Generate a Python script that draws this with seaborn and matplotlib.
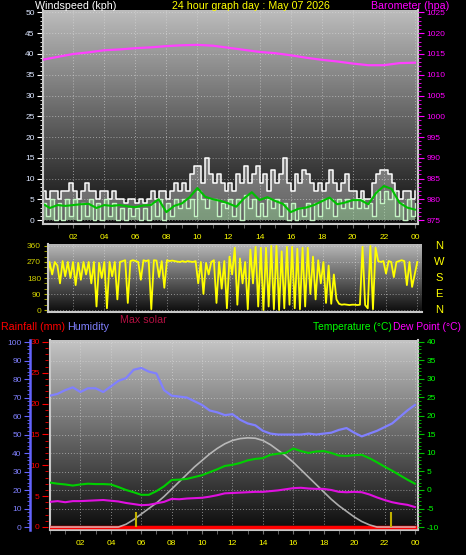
import numpy as np
import matplotlib
matplotlib.use('Agg')
import matplotlib.pyplot as plt
import seaborn as sns
from matplotlib.colors import LinearSegmentedColormap
from matplotlib.ticker import MultipleLocator

plt.rcParams['font.family'] = ['Liberation Sans', 'DejaVu Sans']
plt.rcParams['axes.unicode_minus'] = False

# ---- data -------------------------------------------------------------
t15 = np.arange(97) / 4          # 15 minute steps
t10 = np.arange(145) / 6         # 10 minute steps
t30 = np.arange(49) / 2          # 30 minute steps
t60 = np.arange(25)              # hourly

gust = [7, 5, 7, 7, 5, 7, 7, 9, 7, 5, 7, 9, 7, 7, 5, 7,
        7, 5, 7, 5, 5, 4, 5, 5, 4, 5, 4, 5, 7, 5, 7, 7,
        5, 7, 9, 7, 9, 7, 11, 13, 13, 9, 15, 11, 9, 11, 9, 7,
        9, 7, 11, 9, 13, 9, 11, 13, 9, 11, 7, 12, 9, 11, 15, 9,
        7, 11, 9, 12, 11, 9, 7, 9, 7, 9, 12, 9, 7, 9, 11, 7,
        7, 5, 7, 5, 5, 9, 11, 12, 12, 11, 9, 7, 5, 7, 7, 5, 7]

speed = [4, 1, 5, 0, 4, 0, 5, 1, 5, 0, 4, 1, 5, 0, 4, 0,
         5, 1, 4, 0, 3, 0, 3, 1, 3, 0, 3, 0, 4, 1, 5, 0,
         4, 1, 5, 3, 5, 3, 5, 1, 7, 5, 3, 5, 5, 1, 4, 3,
         5, 1, 5, 0, 6, 3, 5, 1, 4, 1, 5, 3, 5, 1, 4, 0,
         4, 0, 3, 1, 4, 0, 4, 1, 5, 3, 5, 1, 5, 3, 5, 3,
         5, 3, 5, 3, 4, 1, 7, 4, 7, 5, 7, 1, 4, 0, 5, 1, 4]

wind_avg = [4.0, 2.9, 3.6, 3.4, 3.6, 3.8, 3.9, 2.9, 3.6, 3.4,
            3.6, 3.3, 3.1, 3.5, 3.6, 5.0, 1.9, 3.4, 4.0, 5.5,
            7.7, 5.6, 5.0, 4.6, 4.0, 3.2, 5.2, 6.7, 4.8, 5.5,
            4.6, 3.9, 1.9, 2.7, 3.0, 3.6, 4.5, 5.4, 3.8, 4.2,
            4.8, 4.8, 3.8, 6.5, 8.2, 7.5, 4.2, 3.0, 2.5]

barometer = [1013.6, 1014.3, 1015.0, 1015.4, 1015.9, 1016.1, 1016.4, 1016.6,
             1016.9, 1017.1, 1017.2, 1017.0, 1016.5, 1016.0, 1015.5, 1015.2,
             1014.7, 1014.1, 1013.6, 1013.2, 1012.7, 1012.3, 1012.3, 1012.8, 1012.9]

wind_dir = [265, 270, 160, 270, 200, 270,
            250, 150, 275, 190, 270, 180,
            270, 140, 265, 170, 270, 200,
            270, 150, 270, 20, 265, 180,
            270, 10, 270, 190, 270, 60,
            270, 275, 280, 40, 275, 280,
            275, 270, 170, 280, 275, 280,
            5, 280, 278, 185, 275, 125,
            280, 275, 278, 275, 272, 270,
            275, 270, 275, 272, 270, 275,
            150, 270, 90, 265, 200, 270,
            280, 40, 270, 120, 275, 10,
            300, 200, 350, 30, 290, 150,
            270, 5, 340, 150, 355, 20,
            350, 0, 350, 20, 360, 5,
            360, 0, 330, 10, 355, 30,
            355, 10, 345, 5, 350, 20,
            350, 90, 300, 60, 280, 150,
            270, 40, 250, 35, 200, 60,
            35, 30, 32, 30, 28, 30,
            30, 28, 30, 355, 28, 10,
            360, 5, 350, 275, 270, 275,
            205, 275, 270, 185, 270, 275,
            280, 275, 140, 270, 130, 200,
            270]

humidity = [71, 72, 74, 75.5, 73, 75, 75, 73, 76, 79,
            80.5, 85, 86, 84, 83, 74, 71, 70.5, 70, 68,
            66, 63, 62, 60.5, 61, 58, 56, 55, 52, 50.5,
            50, 50, 50, 50, 50.5, 50, 50.5, 51, 52.5, 53.5,
            51, 49, 50.5, 52, 54, 56, 59.5, 63, 66]

temperature = [2.0, 1.7, 1.5, 1.2, 1.5, 1.7, 1.6, 1.6, 1.5, 0.8,
               0.0, -0.6, -1.3, -1.3, -0.3, 1.0, 2.7, 2.8, 3.0, 3.5,
               4.0, 4.8, 5.6, 6.5, 6.8, 7.3, 8.0, 8.4, 8.6, 9.5,
               9.8, 10.0, 11.2, 10.5, 10.0, 10.4, 10.5, 10.0, 9.3, 9.2,
               9.4, 9.5, 8.6, 7.5, 6.3, 5.2, 4.0, 2.8, 1.7]

dew_point = [-3.2, -3.0, -3.3, -3.0, -3.0, -2.9, -2.8, -2.7, -2.9, -3.1,
             -3.5, -3.8, -4.1, -4.0, -3.6, -3.2, -2.4, -2.5, -2.3, -2.2,
             -2.1, -1.8, -1.4, -0.9, -0.8, -0.7, -0.6, -0.5, -0.5, -0.3,
             -0.1, 0.2, 0.5, 0.6, 0.4, 0.3, 0.3, 0.0, -0.5, -0.6,
             -0.5, -0.6, -1.2, -2.0, -2.7, -3.3, -3.7, -4.0, -4.6]

max_solar = [0, 0, 0, 0, 0, 0, 0, 0, 0, 0,
             1.5, 4, 7, 10, 13, 16.5, 20.5, 24.5, 28.5, 32.5,
             36, 39.5, 42.5, 45, 46.8, 47.8, 48.2, 48, 46.8, 44.5,
             41.5, 38.5, 35, 31, 27, 23, 19, 15, 11.5, 8.5,
             5.5, 3, 1.2, 0, 0, 0, 0, 0, 0]

rainfall = [0] * 25
marker_hours = [5.66, 22.4]

hour_ticks = list(range(2, 25, 2))
hour_labels = ['02', '04', '06', '08', '10', '12', '14', '16', '18', '20', '22', '00']

# ---- helpers -----------------------------------------------------------
W, H = 466, 555
fig = plt.figure(figsize=(W / 100, H / 100), dpi=100, facecolor='black')


def box(left, top, right, bottom):
    return fig.add_axes([left / W, 1 - bottom / H, (right - left) / W, (bottom - top) / H])


def shade(ax, top_col, bottom_col):
    cmap = LinearSegmentedColormap.from_list('bg', [bottom_col, top_col])
    ax.imshow(np.linspace(0, 1, 200)[:, None], extent=[0, 1, 0, 1], transform=ax.transAxes,
              origin='lower', cmap=cmap, aspect='auto', zorder=0)
    ax.set_axisbelow(True)
    ax.grid(True, which='major', color='#e0e0e0', linestyle=(0, (1, 2)), linewidth=0.7, alpha=0.55)


def frame(ax, sides=('left', 'bottom', 'right')):
    for s in ax.spines:
        ax.spines[s].set_visible(s in sides)
        ax.spines[s].set_color('#c8c8c8')
        ax.spines[s].set_linewidth(1.5)


def hide(ax):
    for s in ax.spines.values():
        s.set_visible(False)


def txt(x, y, s, color, size=7.7):
    fig.text(x / W, 1 - y / H, s, color=color, fontsize=size, ha='left', va='center')


# ---- wind / barometer panel -------------------------------------------
ax_w = box(43, 10, 418, 224)
shade(ax_w, '#bcbcbc', '#0c0c0c')
ax_w.fill_between(t15, speed, gust, step='post', color='white', alpha=0.35, linewidth=0)
sns.lineplot(x=t15, y=gust, ax=ax_w, color='white', linewidth=1.1, drawstyle='steps-post')
ax_w.fill_between(t15, 0, speed, step='post', color='#c4f4c4', alpha=0.6, linewidth=0)
sns.lineplot(x=t15, y=speed, ax=ax_w, color='#c4f4c4', linewidth=1, drawstyle='steps-post')
sns.lineplot(x=t30, y=wind_avg, ax=ax_w, color='#00c000', linewidth=1.5)
ax_w.set_xlim(0.06, 24.2)
ax_w.set_ylim(-0.96, 50.6)
ax_w.set_yticks(range(0, 51, 5))
ax_w.yaxis.set_minor_locator(MultipleLocator(1))
ax_w.set_xticks(hour_ticks, hour_labels)
ax_w.xaxis.set_minor_locator(MultipleLocator(1))
ax_w.tick_params(axis='y', which='both', color='white', labelcolor='#dce6ff', labelsize=6, pad=2)
ax_w.tick_params(axis='y', which='major', length=4)
ax_w.tick_params(axis='y', which='minor', length=2.5)
ax_w.tick_params(axis='x', which='both', color='#707070', labelcolor='#ffff00', labelsize=6, length=3, pad=4)
ax_w.set_xlabel('')
ax_w.set_ylabel('')
frame(ax_w)

ax_p = ax_w.twinx()
sns.lineplot(x=t60, y=barometer, ax=ax_p, color='#ff40ff', linewidth=1.6)
ax_p.set_ylim(974.04, 1025.6)
ax_p.set_yticks(range(975, 1026, 5))
ax_p.yaxis.set_minor_locator(MultipleLocator(1))
ax_p.tick_params(axis='y', which='both', color='#ff00ff', labelcolor='#ff00ff', labelsize=6, pad=2)
ax_p.tick_params(axis='y', which='major', length=4)
ax_p.tick_params(axis='y', which='minor', length=2)
ax_p.set_ylabel('')
hide(ax_p)

# ---- wind direction panel ---------------------------------------------
ax_d = box(48, 244, 422, 312)
shade(ax_d, '#b8b8b8', '#0c0c0c')
sns.lineplot(x=t10, y=wind_dir, ax=ax_d, color='#ffff00', linewidth=1.3)
ax_d.set_xlim(0.4, 24.3)
ax_d.set_ylim(-11, 371)
ax_d.set_yticks([0, 90, 180, 270, 360])
ax_d.yaxis.set_minor_locator(MultipleLocator(30))
ax_d.set_xticks(hour_ticks)
ax_d.tick_params(axis='x', length=0, labelbottom=False)
ax_d.tick_params(axis='y', which='both', color='#b0b000', labelcolor='#d0d000', labelsize=6, length=3, pad=2)
ax_d.set_xlabel('')
ax_d.set_ylabel('')
frame(ax_d, ('left', 'bottom'))
for deg, lab in zip([360, 270, 180, 90, 0], ['N', 'W', 'S', 'E', 'N']):
    ax_d.text(1.045, deg, lab, transform=ax_d.get_yaxis_transform(), color='#ffff00',
              fontsize=8, ha='center', va='center')

# ---- temperature / humidity panel -------------------------------------
ax_b = box(50, 340, 418, 530)
shade(ax_b, '#c4c4c4', '#0c0c0c')
ax_b.set_xlim(0, 24.2)
ax_b.set_ylim(-1.6, 101.1)
ax_b.set_yticks(range(0, 101, 10))
ax_b.set_xticks(hour_ticks, hour_labels)
ax_b.xaxis.set_minor_locator(MultipleLocator(1))
ax_b.tick_params(axis='y', left=False, labelleft=False)
ax_b.tick_params(axis='x', which='both', color='#707070', labelcolor='#ffff00', labelsize=6, length=3, pad=4)
frame(ax_b)

ax_r = ax_b.twinx()
sns.lineplot(x=t60, y=rainfall, ax=ax_r, color='#ff0000', linewidth=2.5)
ax_r.set_ylim(-0.49, 30.3)
ax_r.yaxis.tick_left()
ax_r.set_yticks(range(0, 31, 5))
ax_r.yaxis.set_minor_locator(MultipleLocator(1))
hide(ax_r)
ax_r.spines['left'].set_position(('outward', 1.5))
ax_r.tick_params(axis='y', which='both', color='#ff0000', labelcolor='#ff0000', labelsize=6, pad=2)
ax_r.tick_params(axis='y', which='major', length=4)
ax_r.tick_params(axis='y', which='minor', length=2)
ax_r.set_ylabel('')

ax_h = ax_b.twinx()
sns.lineplot(x=t30, y=max_solar, ax=ax_h, color='#d0d0d0', linewidth=1.2, alpha=0.8)
sns.lineplot(x=t30, y=humidity, ax=ax_h, color='#8080ff', linewidth=1.6)
ax_h.vlines(marker_hours, 0, 8, color='#c0b000', linewidth=1.5)
ax_h.set_ylim(-1.6, 101.1)
ax_h.yaxis.tick_left()
ax_h.set_yticks(range(0, 101, 10))
ax_h.yaxis.set_minor_locator(MultipleLocator(2))
hide(ax_h)
ax_h.spines['left'].set_visible(True)
ax_h.spines['left'].set_position(('outward', 14.4))
ax_h.spines['left'].set_color('#6464ff')
ax_h.spines['left'].set_linewidth(1.8)
ax_h.tick_params(axis='y', which='both', color='#6464ff', labelcolor='#8080ff', labelsize=6, pad=2)
ax_h.tick_params(axis='y', which='major', length=4)
ax_h.tick_params(axis='y', which='minor', length=2)
ax_h.set_ylabel('')

ax_t = ax_b.twinx()
sns.lineplot(x=t30, y=temperature, ax=ax_t, color='#00d000', linewidth=1.5)
sns.lineplot(x=t30, y=dew_point, ax=ax_t, color='#e010e0', linewidth=1.5)
ax_t.set_ylim(-10.8, 40.5)
ax_t.set_yticks(range(-10, 41, 5))
ax_t.yaxis.set_minor_locator(MultipleLocator(1))
hide(ax_t)
ax_t.tick_params(axis='y', which='both', color='#00c000', labelcolor='#00ff00', labelsize=6, pad=2)
ax_t.tick_params(axis='y', which='major', length=4)
ax_t.tick_params(axis='y', which='minor', length=2)
ax_t.set_ylabel('')

# ---- titles ------------------------------------------------------------
txt(35, 6, 'Windspeed (kph)', 'white')
fig.text(251 / W, 1 - 6 / H, '24 hour graph day : May 07 2026', color='#ffff00', fontsize=7.7,
         ha='center', va='center')
txt(371, 6, 'Barometer (hpa)', '#ff00ff')
txt(120, 320, 'Max solar', '#b01040')
txt(1, 327, 'Rainfall (mm)', '#ff0000')
txt(67, 327, 'Humidity', '#8080ff')
txt(313, 327, 'Temperature (°C)', '#00ff00', size=7.4)
txt(393, 327, 'Dew Point (°C)', '#ff00ff', size=7.4)

fig.savefig('out.png', dpi=100, facecolor='black')
